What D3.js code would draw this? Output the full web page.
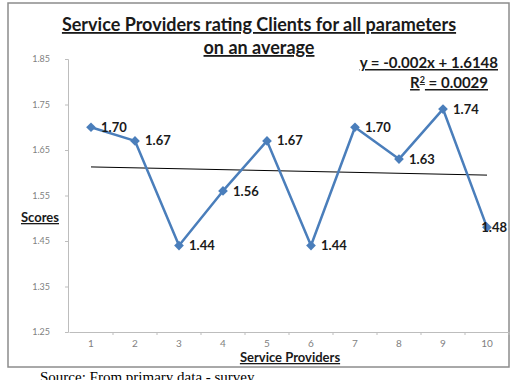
<!DOCTYPE html>
<html>
<head>
<meta charset="utf-8">
<script src="https://cdn.jsdelivr.net/npm/d3@7"></script>
<style>
  body { margin: 0; background: #fff; }
  svg { display: block; }
</style>
</head>
<body>
<script>
let width = 513,
    height = 380;

// data
let providers = ["1", "2", "3", "4", "5", "6", "7", "8", "9", "10"];
let scores = [1.70, 1.67, 1.44, 1.56, 1.67, 1.44, 1.70, 1.63, 1.74, 1.48];
let yTicks = [1.25, 1.35, 1.45, 1.55, 1.65, 1.75, 1.85];
let trendSlope = -0.002,
    trendIntercept = 1.6148;

let font = "Lato, 'Liberation Sans', sans-serif";

let svg = d3.select("body")
            .append("svg")
            .attr("width", width)
            .attr("height", height)
            .style("font-family", font);

svg.append("rect")
   .attr("width", width)
   .attr("height", height)
   .attr("fill", "#fff");

// outer chart border
svg.append("rect")
   .attr("x", 8)
   .attr("y", 3)
   .attr("width", 501)
   .attr("height", 364)
   .attr("fill", "none")
   .attr("stroke", "#8c8c8c")
   .attr("stroke-width", 1.5);

let xScale = d3.scaleBand()
               .domain(providers)
               .range([69, 509]);

let yScale = d3.scaleLinear()
               .domain([1.25, 1.85])
               .range([332, 59]);

// y axis
let yAxis = svg.append("g")
   .attr("transform", "translate(68,0)")
   .call(d3.axisLeft(yScale)
           .tickValues(yTicks)
           .tickSize(3)
           .tickPadding(15)
           .tickFormat(d3.format(".2f")));
yAxis.select(".domain").attr("stroke", "#bdbdbd");
yAxis.selectAll(".tick line").attr("stroke", "#bdbdbd");
yAxis.selectAll("text")
     .attr("fill", "#7f7f7f")
     .style("font-size", "9px")
     .style("font-family", font);

// x axis
let xAxis = svg.append("g")
   .attr("transform", "translate(0,332)")
   .call(d3.axisBottom(xScale)
           .tickSize(0)
           .tickPadding(8));
xAxis.select(".domain").attr("stroke", "#bdbdbd");
xAxis.selectAll("text")
     .attr("fill", "#7f7f7f")
     .style("font-size", "10px")
     .style("font-family", font);

// tick marks between categories
xAxis.selectAll(".sep")
     .data(providers.slice(1).concat(["end"]))
     .enter()
     .append("line")
     .attr("class", "sep")
     .attr("x1", function(d) { return d === "end" ? xScale.range()[1] : xScale(d); })
     .attr("x2", function(d) { return d === "end" ? xScale.range()[1] : xScale(d); })
     .attr("y1", 0)
     .attr("y2", 3)
     .attr("stroke", "#bdbdbd");

let cx = function(d, i) { return xScale(providers[i]) + xScale.bandwidth() / 2; };

// linear trend line
let x1 = xScale(providers[0]) + xScale.bandwidth() / 2,
    x2 = xScale(providers[providers.length - 1]) + xScale.bandwidth() / 2;
svg.append("line")
   .attr("x1", x1)
   .attr("x2", x2)
   .attr("y1", yScale(trendIntercept + trendSlope * 1))
   .attr("y2", yScale(trendIntercept + trendSlope * providers.length))
   .attr("stroke", "#000")
   .attr("stroke-width", 1);

// the series line
let line = d3.line()
             .x(cx)
             .y(function(d) { return yScale(d); });

svg.append("path")
   .datum(scores)
   .attr("d", line)
   .attr("fill", "none")
   .attr("stroke", "#4a7ebb")
   .attr("stroke-width", 2.5)
   .attr("stroke-linejoin", "round");

// diamond markers
svg.selectAll(".marker")
   .data(scores)
   .enter()
   .append("path")
   .attr("class", "marker")
   .attr("d", d3.symbol().type(d3.symbolDiamond2).size(60))
   .attr("transform", function(d, i) {
       return "translate(" + cx(d, i) + "," + yScale(d) + ")";
   })
   .attr("fill", "#4a7ebb");

// data labels
svg.selectAll(".lbl")
   .data(scores)
   .enter()
   .append("text")
   .attr("class", "lbl")
   .attr("x", function(d, i) { return cx(d, i) + 10; })
   .attr("y", function(d) { return yScale(d); })
   .attr("dy", "0.35em")
   .attr("fill", "#1a1a1a")
   .style("font-size", "13px")
   .style("font-weight", "bold")
   .text(function(d) { return d.toFixed(2); })
   .each(function() {
       // keep labels inside the chart area like Excel does
       let w = this.getComputedTextLength();
       let x = +d3.select(this).attr("x");
       if (x + w > 507) d3.select(this).attr("x", 507 - w);
   });

// titles
let title = svg.append("text")
   .attr("x", 259)
   .attr("text-anchor", "middle")
   .attr("fill", "#1a1a1a")
   .style("font-size", "18px")
   .style("font-weight", "bold")
   .style("text-decoration", "underline");
title.append("tspan").attr("x", 259).attr("y", 31)
     .text("Service Providers rating Clients for all parameters");
title.append("tspan").attr("x", 259).attr("y", 54)
     .text("on an average");

// trend equation
svg.append("text")
   .attr("x", 498)
   .attr("y", 68)
   .attr("text-anchor", "end")
   .attr("fill", "#1a1a1a")
   .style("font-size", "15px")
   .style("font-weight", "bold")
   .style("text-decoration", "underline")
   .text("y = -0.002x + 1.6148");

let r2 = svg.append("text")
   .attr("x", 488)
   .attr("y", 88)
   .attr("text-anchor", "end")
   .attr("fill", "#1a1a1a")
   .style("font-size", "15px")
   .style("font-weight", "bold")
   .style("text-decoration", "underline");
r2.append("tspan").text("R");
r2.append("tspan").attr("dy", -5).style("font-size", "9px").text("2");
r2.append("tspan").attr("dy", 5).text(" = 0.0029");

// axis titles
svg.append("text")
   .attr("x", 40)
   .attr("y", 222)
   .attr("text-anchor", "middle")
   .attr("fill", "#1a1a1a")
   .style("font-size", "13px")
   .style("font-weight", "bold")
   .style("text-decoration", "underline")
   .text("Scores");

svg.append("text")
   .attr("x", 290)
   .attr("y", 362)
   .attr("text-anchor", "middle")
   .attr("fill", "#1a1a1a")
   .style("font-size", "13px")
   .style("font-weight", "bold")
   .style("text-decoration", "underline")
   .text("Service Providers");

// source note below the chart (cut by the page edge, as in the original)
svg.append("text")
   .attr("x", 40)
   .attr("y", 382)
   .attr("fill", "#000")
   .style("font-family", "'Liberation Serif', 'DejaVu Serif', serif")
   .style("font-size", "15px")
   .text("Source: From primary data - survey");
</script>
</body>
</html>
